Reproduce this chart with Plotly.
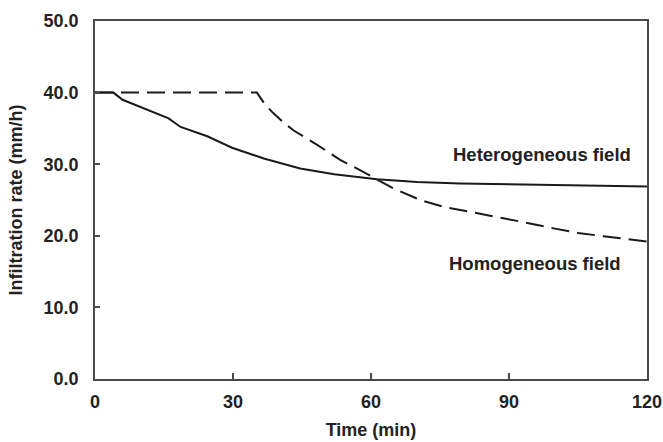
import plotly.graph_objects as go

# Heterogeneous field (solid)
het_time = [0, 4, 6, 10, 16, 18.6, 24.4, 29.8, 36.7, 44.6, 52, 61.3, 70, 79.4, 90, 100, 110, 120]
het_rate = [40.0, 40.0, 39.0, 38.0, 36.4, 35.2, 33.9, 32.3, 30.8, 29.4, 28.6, 27.9, 27.5, 27.3, 27.2, 27.1, 27.0, 26.9]

# Homogeneous field (dashed)
hom_time = [0, 35.2, 37, 38.8, 41, 43.2, 48.3, 53.3, 57.5, 61.3, 64.9, 70.7, 76.1, 81.9, 87.7, 93.2, 100, 105, 111, 117, 120]
hom_rate = [40.0, 40.0, 38.3, 37.1, 35.8, 34.7, 32.7, 30.6, 29.2, 27.9, 26.6, 25.0, 24.0, 23.3, 22.6, 21.9, 21.0, 20.4, 19.9, 19.5, 19.2]

x_ticks = [0, 30, 60, 90, 120]
y_ticks = [0, 10, 20, 30, 40, 50]

FONT = "Liberation Sans, Arial, sans-serif"
TXT = "#222222"
AX = "#4a4a4a"

fig = go.Figure()
fig.add_trace(go.Scatter(x=het_time, y=het_rate, mode="lines",
                         line=dict(color="#1a1a1a", width=2), showlegend=False))
fig.add_trace(go.Scatter(x=hom_time, y=hom_rate, mode="lines",
                         line=dict(color="#1a1a1a", width=2, dash="18px,8px"), showlegend=False))

fig.add_annotation(x=97.2, y=31.3, text="Heterogeneous field", showarrow=False,
                   font=dict(family=FONT, size=18.5, color=TXT, weight="bold"))
fig.add_annotation(x=95.6, y=16.1, text="Homogeneous field", showarrow=False,
                   font=dict(family=FONT, size=18.5, color=TXT, weight="bold"))

fig.update_layout(
    width=663, height=442,
    margin=dict(l=95, r=16, t=21, b=63),
    paper_bgcolor="white", plot_bgcolor="white",
    font=dict(family=FONT, color=TXT),
)
fig.update_xaxes(range=[0, 120], tickvals=x_ticks, ticks="inside", ticklen=6, tickwidth=1.5,
                 tickcolor=AX, showline=True, linecolor=AX, linewidth=1.5, mirror=True,
                 showgrid=False, zeroline=False, automargin=False, ticklabelstandoff=6,
                 tickfont=dict(family=FONT, size=18, color=TXT, weight="bold"),
                 title=dict(text="Time (min)", font=dict(family=FONT, size=18, color=TXT, weight="bold"),
                            standoff=12))
fig.update_yaxes(range=[0, 50], tickvals=y_ticks, tickformat=".1f", ticks="inside", ticklen=5, tickwidth=1.5,
                 tickcolor=AX, showline=True, linecolor=AX, linewidth=1.5, mirror=True,
                 showgrid=False, zeroline=False, automargin=False, ticklabelstandoff=11,
                 tickfont=dict(family=FONT, size=18, color=TXT, weight="bold"),
                 title=dict(text="Infiltration rate (mm/h)",
                            font=dict(family=FONT, size=18, color=TXT, weight="bold"), standoff=16))

fig.write_html("out.html", config={"displayModeBar": False},
               post_script="document.body.style.margin='0';")
